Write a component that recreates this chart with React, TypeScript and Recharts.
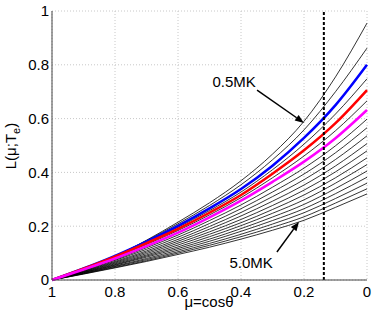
import { LineChart, Line, XAxis, YAxis, CartesianGrid, ReferenceLine, ReferenceDot } from 'recharts';

// mu = cos(theta), read from 1 (left) down to 0 (right)
const mu = [1, 0.9, 0.8, 0.7, 0.6, 0.5, 0.4, 0.3, 0.2, 0.1, 0];

// L(mu; Te) for each temperature curve
const t050 = [0, 0.041, 0.088, 0.148, 0.215, 0.287, 0.369, 0.468, 0.59, 0.755, 0.955];
const t075 = [0, 0.042, 0.089, 0.146, 0.209, 0.277, 0.354, 0.447, 0.558, 0.7, 0.862];
const t100 = [0, 0.043, 0.09, 0.143, 0.201, 0.266, 0.338, 0.425, 0.528, 0.65, 0.8];
const t125 = [0, 0.043, 0.089, 0.14, 0.196, 0.258, 0.327, 0.41, 0.505, 0.617, 0.748];
const t150 = [0, 0.042, 0.087, 0.137, 0.19, 0.25, 0.316, 0.395, 0.482, 0.583, 0.706];
const t175 = [0, 0.041, 0.084, 0.132, 0.184, 0.242, 0.306, 0.38, 0.461, 0.555, 0.666];
const t200 = [0, 0.039, 0.08, 0.126, 0.176, 0.233, 0.295, 0.365, 0.44, 0.527, 0.632];
const t225 = [0, 0.037, 0.076, 0.12, 0.167, 0.221, 0.279, 0.345, 0.416, 0.499, 0.598];
const t250 = [0, 0.035, 0.073, 0.114, 0.159, 0.21, 0.265, 0.327, 0.394, 0.473, 0.566];
const t275 = [0, 0.034, 0.069, 0.108, 0.151, 0.199, 0.251, 0.31, 0.373, 0.448, 0.536];
const t300 = [0, 0.032, 0.066, 0.103, 0.144, 0.189, 0.238, 0.293, 0.353, 0.424, 0.507];
const t325 = [0, 0.031, 0.063, 0.098, 0.137, 0.179, 0.225, 0.277, 0.334, 0.402, 0.48];
const t350 = [0, 0.029, 0.06, 0.093, 0.13, 0.17, 0.213, 0.262, 0.316, 0.38, 0.454];
const t375 = [0, 0.028, 0.057, 0.089, 0.123, 0.161, 0.202, 0.248, 0.298, 0.36, 0.429];
const t400 = [0, 0.027, 0.055, 0.085, 0.117, 0.152, 0.191, 0.234, 0.281, 0.34, 0.405];
const t425 = [0, 0.025, 0.052, 0.08, 0.111, 0.144, 0.181, 0.221, 0.265, 0.321, 0.382];
const t450 = [0, 0.024, 0.05, 0.076, 0.105, 0.136, 0.17, 0.208, 0.25, 0.303, 0.36];
const t475 = [0, 0.023, 0.047, 0.072, 0.1, 0.129, 0.161, 0.196, 0.235, 0.286, 0.339];
const t500 = [0, 0.022, 0.045, 0.069, 0.095, 0.122, 0.152, 0.185, 0.222, 0.27, 0.32];

const xTicks = [0, 0.2, 0.4, 0.6, 0.8, 1];
const yTicks = [0, 0.2, 0.4, 0.6, 0.8, 1];
const cutoffMu = 0.137;

const hotNote = { text: '0.5MK', at: { x: 0.422, y: 0.736 }, from: { x: 0.349, y: 0.706 }, to: { x: 0.2, y: 0.584 } };
const coldNote = { text: '5.0MK', at: { x: 0.368, y: 0.063 }, from: { x: 0.286, y: 0.104 }, to: { x: 0.216, y: 0.216 } };

const series: Record<string, number[]> = {
    t050, t075, t100, t125, t150, t175, t200, t225, t250, t275,
    t300, t325, t350, t375, t400, t425, t450, t475, t500,
};

const highlighted: Record<string, string> = { t100: '#0000ff', t150: '#ff0000', t200: '#ff00ff' };

const data = mu.map((m, i) => {
    const row: Record<string, number> = { mu: m };
    Object.keys(series).forEach((k) => {
        row[k] = series[k][i];
    });
    return row;
});

const FONT = '"Liberation Sans", Arial, Helvetica, sans-serif';

function Arrow(props: any) {
    const { x1, y1, x2, y2 } = props;
    const ang = Math.atan2(y2 - y1, x2 - x1);
    const len = 9;
    const half = 3.5;
    const bx = x2 - len * Math.cos(ang);
    const by = y2 - len * Math.sin(ang);
    const nx = -Math.sin(ang) * half;
    const ny = Math.cos(ang) * half;
    return (
        <g>
            <line x1={x1} y1={y1} x2={bx} y2={by} stroke="#000" strokeWidth={1.5} />
            <polygon points={`${x2},${y2} ${bx + nx},${by + ny} ${bx - nx},${by - ny}`} fill="#000" />
        </g>
    );
}

function YTitle() {
    return (
        <text x={16} y={146} transform="rotate(-90 16 146)" textAnchor="middle" fontSize={15} fill="#000" fontFamily={FONT}>
            <tspan>L(μ;T</tspan>
            <tspan dy={4} fontSize={11}>e</tspan>
            <tspan dy={-4}>)</tspan>
        </text>
    );
}

function XTitle() {
    return (
        <text x={209} y={307} textAnchor="middle" fontSize={15} fill="#000" fontFamily={FONT}>
            μ=cosθ
        </text>
    );
}

export default function App() {
    const black = Object.keys(series).filter((k) => !highlighted[k]);
    const colored = Object.keys(series).filter((k) => highlighted[k]);
    return (
        <div style={{ position: 'absolute', left: 0, top: 0, width: 374, height: 315, background: '#fff', fontFamily: FONT }}>
            <LineChart width={374} height={315} data={data} margin={{ top: 11, right: 7, bottom: 0, left: 0 }}>
                <CartesianGrid stroke="#c8c8c8" strokeDasharray="1 2" />
                <XAxis
                    dataKey="mu"
                    type="number"
                    domain={[0, 1]}
                    reversed
                    ticks={xTicks}
                    height={35}
                    tickSize={0}
                    tickMargin={6}
                    stroke="#444"
                    tick={{ fill: '#000', fontSize: 15 }}
                    label={<XTitle />}
                />
                <XAxis xAxisId="top" orientation="top" type="number" domain={[0, 1]} reversed height={0} tick={false} tickLine={false} stroke="#444" />
                <YAxis
                    type="number"
                    domain={[0, 1]}
                    ticks={yTicks}
                    width={52}
                    tickSize={0}
                    tickMargin={3}
                    stroke="#444"
                    tick={{ fill: '#000', fontSize: 15 }}
                    label={<YTitle />}
                />
                <YAxis yAxisId="right" orientation="right" type="number" domain={[0, 1]} width={0} tick={false} tickLine={false} stroke="#444" />
                {black.map((k) => (
                    <Line key={k} dataKey={k} type="monotone" stroke="#000" strokeWidth={0.8} dot={false} isAnimationActive={false} />
                ))}
                {colored.map((k) => (
                    <Line key={k} dataKey={k} type="monotone" stroke={highlighted[k]} strokeWidth={2.5} dot={false} isAnimationActive={false} />
                ))}
                <ReferenceLine x={cutoffMu} stroke="#000" strokeWidth={2} strokeDasharray="3 2" />
                <ReferenceLine segment={[hotNote.from, hotNote.to]} shape={(p: any) => <Arrow {...p} />} />
                <ReferenceLine segment={[coldNote.from, coldNote.to]} shape={(p: any) => <Arrow {...p} />} />
                <ReferenceDot x={hotNote.at.x} y={hotNote.at.y} r={0} stroke="none" fill="none" label={{ value: hotNote.text, position: 'center', fill: '#000', fontSize: 15 }} />
                <ReferenceDot x={coldNote.at.x} y={coldNote.at.y} r={0} stroke="none" fill="none" label={{ value: coldNote.text, position: 'center', fill: '#000', fontSize: 15 }} />
            </LineChart>
        </div>
    );
}
